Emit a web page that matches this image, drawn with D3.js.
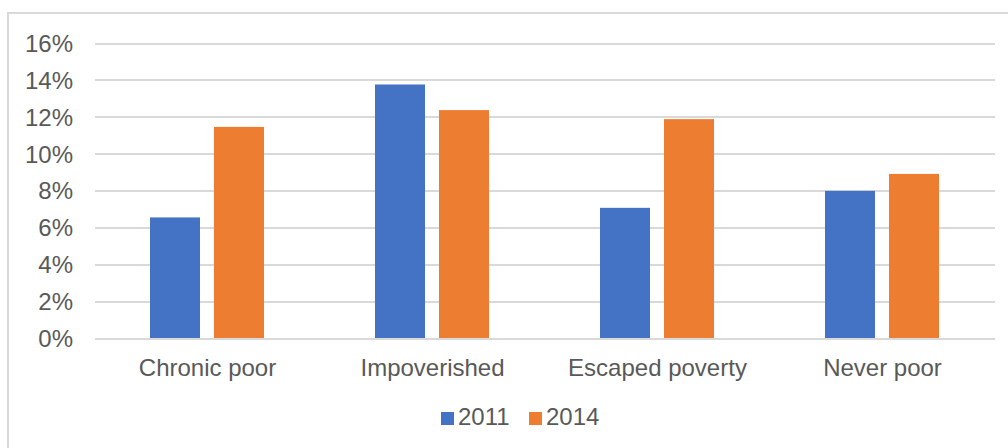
<!DOCTYPE html>
<meta charset="utf-8">
<style>
body { margin: 0; background: #fff; font-family: 'Liberation Sans', Arial, sans-serif; }
text { fill: #595959; }
.grid line { stroke: #d9d9d9; stroke-width: 2px; shape-rendering: crispEdges; }
.grid path { stroke: none; }
.axis path, .axis line { stroke: none; }
.axis text { font-size: 24px; }
.legend text { font-size: 24px; }
</style>
<body>
<svg width="1008" height="448"></svg>
<script src="https://d3js.org/d3.v7.min.js"></script>
<script>
var categories = ["Chronic poor", "Impoverished", "Escaped poverty", "Never poor"];
var series = ["2011", "2014"];
var values2011 = [6.54, 13.75, 7.06, 7.98];
var values2014 = [11.45, 12.36, 11.87, 8.9];
var yTicks = [0, 2, 4, 6, 8, 10, 12, 14, 16];
var colors = ["#4472c4", "#ed7d31"];

var svg = d3.select("svg");

// chart frame
svg.append("rect")
    .attr("x", 8).attr("y", 13)
    .attr("width", 1010).attr("height", 450)
    .attr("fill", "none")
    .attr("stroke", "#d9d9d9")
    .attr("stroke-width", 2);

var plotLeft = 95, plotRight = 995, plotTop = 43, plotBottom = 338;

var x = d3.scaleBand().domain(categories).range([plotLeft, plotRight]);
var x1 = d3.scaleBand().domain(series).range([55, 169]).paddingInner(0.21875);
var y = d3.scaleLinear().domain([0, 16]).range([plotBottom, plotTop]);

// gridlines
svg.append("g")
    .attr("class", "grid")
    .attr("transform", "translate(" + plotLeft + ",0)")
    .call(d3.axisLeft(y).tickValues(yTicks).tickSize(-(plotRight - plotLeft)).tickFormat(""));

// y axis labels
svg.append("g")
    .attr("class", "axis")
    .attr("transform", "translate(" + (plotLeft - 10) + ",0)")
    .call(d3.axisLeft(y).tickValues(yTicks).tickSize(0).tickPadding(12)
      .tickFormat(function(d) { return d + "%"; }))
    .selectAll("text").attr("dy", "0.35em");

// x axis labels
svg.append("g")
    .attr("class", "axis")
    .attr("transform", "translate(0," + plotBottom + ")")
    .call(d3.axisBottom(x).tickSize(0).tickPadding(0))
    .selectAll("text").attr("dy", "0").attr("y", 38);

var data = categories.map(function(c, i) {
  return {cat: c, vals: [{s: "2011", v: values2011[i]}, {s: "2014", v: values2014[i]}]};
});

var groups = svg.selectAll(".cat")
    .data(data)
  .enter().append("g")
    .attr("class", "cat")
    .attr("transform", function(d) { return "translate(" + x(d.cat) + ",0)"; });

groups.selectAll("rect")
    .data(function(d) { return d.vals; })
  .enter().append("rect")
    .attr("x", function(d) { return x1(d.s); })
    .attr("width", x1.bandwidth())
    .attr("y", function(d) { return y(d.v); })
    .attr("height", function(d) { return y(0) - y(d.v); })
    .attr("fill", function(d, i) { return colors[i]; });

// legend
var legend = svg.append("g").attr("class", "legend");
var legendX = [441, 529];
series.forEach(function(s, i) {
  legend.append("rect")
      .attr("x", legendX[i]).attr("y", 412)
      .attr("width", 13).attr("height", 13)
      .attr("fill", colors[i]);
  legend.append("text")
      .attr("x", legendX[i] + 17).attr("y", 425)
      .text(s);
});
</script>
</body>
